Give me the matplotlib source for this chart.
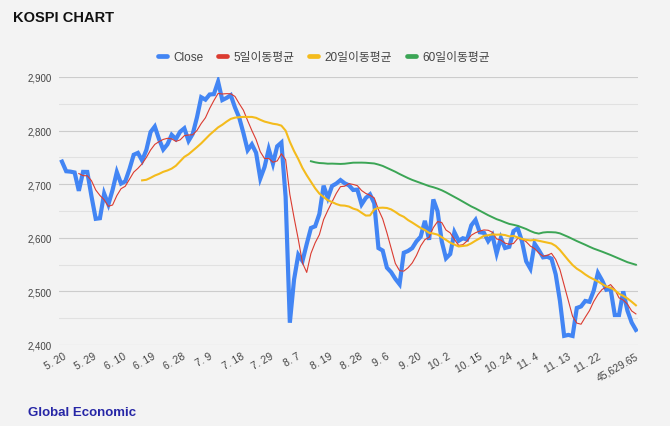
import numpy as np
import pandas as pd
import matplotlib
matplotlib.use("Agg")
import matplotlib.pyplot as plt
import matplotlib.transforms as mtransforms
from matplotlib.lines import Line2D

# KOSPI daily close, 2024-05-20 .. 2024-12-06 (137 trading days)
close = [
    2742.14, 2724.18, 2723.46, 2721.81, 2687.60, 2722.99, 2722.85, 2677.30, 2635.44, 2636.52,  # 5/20 - 5/31
    2682.52, 2662.10, 2689.50, 2722.67, 2701.17, 2705.23, 2728.17, 2754.89, 2758.42, 2744.10,  # 6/3 - 6/17
    2763.92, 2797.33, 2807.63, 2784.06, 2764.73, 2774.39, 2792.05, 2784.26, 2797.82,           # 6/18 - 6/28
    2804.31, 2780.86, 2794.01, 2824.94, 2862.23, 2857.76, 2867.38, 2867.99, 2891.35, 2857.00,  # 7/1 - 7/12
    2860.92, 2866.09, 2843.19, 2824.35, 2795.46, 2763.51, 2774.35, 2758.71, 2710.65, 2731.90,  # 7/15 - 7/26
    2765.52, 2738.19, 2770.69,                                                                 # 7/29 - 7/31
    2777.68, 2676.19, 2441.55, 2522.15, 2568.41, 2556.73, 2588.43, 2618.30, 2621.50, 2644.50,  # 8/1 - 8/14
    2697.23, 2674.36, 2696.63, 2701.13, 2707.67, 2701.69, 2698.01, 2689.25, 2689.83, 2662.28,  # 8/16 - 8/29
    2674.31,                                                                                   # 8/30
    2681.00, 2664.63, 2580.80, 2576.20, 2544.28, 2535.93, 2523.43, 2513.37, 2572.09, 2575.41,  # 9/2 - 9/13
    2580.80, 2593.37, 2602.01, 2631.68, 2596.32, 2671.57, 2649.78, 2593.27,                    # 9/19 - 9/30
    2561.69, 2569.71, 2610.38, 2594.36, 2599.16, 2596.91, 2623.31, 2633.45, 2610.36, 2609.30,  # 10/2 - 10/17
    2593.82, 2604.92, 2570.70, 2599.62, 2581.03, 2583.27, 2612.43, 2617.80, 2593.79, 2556.15,  # 10/18 - 10/31
    2542.36, 2588.97, 2576.88, 2563.51, 2564.63, 2561.15, 2531.66, 2482.57, 2417.08, 2418.86,  # 11/1 - 11/14
    2416.86, 2469.07, 2471.95, 2482.17, 2480.63, 2501.24, 2534.34, 2520.36, 2503.06, 2504.67,  # 11/15 - 11/28
    2455.91, 2455.91, 2500.10, 2464.00, 2441.85, 2428.16,                                      # 11/29 - 12/6
]

# x tick labels (every 7th trading day), as shown on the chart
tick_labels = ["5. 20", "5. 29", "6. 10", "6. 19", "6. 28", "7. 9", "7. 18", "7. 29",
               "8. 7", "8. 19", "8. 28", "9. 6", "9. 20", "10. 2", "10. 15", "10. 24",
               "11. 4", "11. 13", "11. 22", "45,629.65"]
tick_step = 7

series_names = ["Close", "5일이동평균", "20일이동평균", "60일이동평균"]
ma_windows = [5, 20, 60]

colors = ["#4285f4", "#db3b30", "#f4bb1c", "#3ba555"]
widths = [3.0, 0.8, 1.5, 1.4]

plt.rcParams["font.family"] = ["Liberation Sans", "Noto Sans CJK KR", "DejaVu Sans"]

df = pd.DataFrame({"Close": close})
for w, name in zip(ma_windows, series_names[1:]):
    df[name] = df["Close"].rolling(w).mean()

bg = "#f3f3f3"
fig = plt.figure(figsize=(6.7, 4.27), dpi=100, facecolor=bg)
ax = fig.add_axes([59 / 670, 1 - 346 / 427, (638 - 59) / 670, (346 - 78) / 427])
ax.set_facecolor(bg)

x = np.arange(len(df))
# close underneath, averages drawn over it
ax.plot(x, df["Close"], color=colors[0], lw=widths[0], solid_joinstyle="miter", zorder=2)
for i, name in enumerate(series_names[1:], start=1):
    ax.plot(x, df[name], color=colors[i], lw=widths[i], zorder=3)

ax.set_xlim(-0.7, len(df) - 1 + 0.5)
ax.set_ylim(2400, 2900)
ax.set_yticks(np.arange(2400, 2901, 100))
ax.set_yticks(np.arange(2450, 2900, 100), minor=True)
ax.set_yticklabels([f"{v:,}" for v in range(2400, 2901, 100)])
ax.grid(axis="y", which="major", color="#cccccc", lw=0.8)
ax.grid(axis="y", which="minor", color="#e1e1e1", lw=0.8)
ax.set_axisbelow(True)
ax.tick_params(axis="y", which="both", length=0, pad=5, labelsize=7, labelcolor="#444444")

ax.set_xticks(np.arange(len(tick_labels)) * tick_step)
ax.set_xticklabels(tick_labels, rotation=30, ha="center")
ax.tick_params(axis="x", length=0, pad=4, labelsize=7.5, labelcolor="#444444")
shift = mtransforms.ScaledTranslation(-6 / 100, 0, fig.dpi_scale_trans)
for lab in ax.get_xticklabels():
    lab.set_transform(lab.get_transform() + shift)

for s in ax.spines.values():
    s.set_visible(False)

handles = [Line2D([], [], color=c, lw=3.4, solid_capstyle="round") for c in colors]
fig.legend(handles, series_names, loc="center", bbox_to_anchor=(324 / 670, 1 - 58 / 427),
           ncol=4, frameon=False, fontsize=8.5, handlelength=0.75, handletextpad=0.55,
           columnspacing=1.25, labelcolor="#444444")

fig.text(13 / 670, 1 - 22 / 427, "KOSPI CHART", fontsize=10.5, fontweight="bold",
         color="#111111", va="baseline")
fig.text(28 / 670, 1 - 416 / 427, "Global Economic", fontsize=9.5, fontweight="bold",
         color="#2626a6", va="baseline")

fig.savefig("out.png", dpi=100, facecolor=bg)
